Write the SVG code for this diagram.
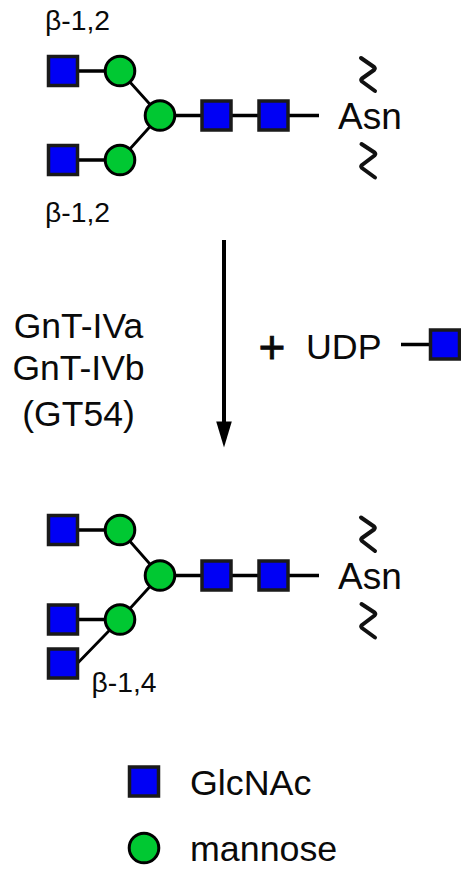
<svg xmlns="http://www.w3.org/2000/svg" width="461" height="871" viewBox="0 0 461 871">
<style>
text{font-family:"Liberation Sans",Arial,sans-serif;fill:#0a0a0a}
.l{font-size:35.800px}
.a{font-size:37px}
.b{font-size:28.300px}
.c{text-anchor:middle;font-size:35.500px}
.g{fill:#0000f5;stroke:#1a1a1a;stroke-width:3.500}
.m{fill:#00c832;stroke:#000;stroke-width:3}
.k{fill:none;stroke:#000;stroke-width:3.500}
.t{stroke-width:2.800}
.w{fill:none;stroke:#111;stroke-width:4;stroke-linecap:round;stroke-linejoin:round}
</style>
<defs>
<rect id="sq" x="-14.500" y="-14.500" width="29" height="29" class="g"/>
<circle id="ci" r="14.800" class="m"/>
</defs>
<rect width="461" height="871" fill="#fff"/>
<g id="connectors">
<path class="k" d="M63 71H120M63 160H120M160 115.500H319"/>
<path class="k t" d="M120 71L160 115.500M120 160L160 115.500"/>
<path class="k" d="M63 530H120M63 619.500H120M160 575.500H319"/>
<path class="k t" d="M120 530L160 575.500M120 619.500L160 575.500M70 671L120 619.500"/>
<path class="k" d="M401 344.500H445"/>
<path d="M224 240V425" fill="none" stroke="#000" stroke-width="4"/>
<path d="M216.200 421.500H231.800L224 447.500Z" fill="#000"/>
</g>
<g id="top-glycan">
<use id="t-g1" href="#sq" x="63" y="71"/>
<use id="t-m1" href="#ci" x="120" y="71"/>
<use id="t-g2" href="#sq" x="63" y="160"/>
<use id="t-m2" href="#ci" x="120" y="160"/>
<use id="t-m3" href="#ci" x="160" y="115.500"/>
<use id="t-g3" href="#sq" x="216.500" y="115.500"/>
<use id="t-g4" href="#sq" x="273.500" y="115.500"/>
<text class="b" x="45" y="30">β-1,2</text>
<text class="b" x="45" y="222">β-1,2</text>
<text class="a" x="338" y="128.500">Asn</text>
<path class="w" d="M361 58L374 67Q375.500 68.500 374 70L362 78.500Q360.500 80 362 81.500L375 91"/>
<path class="w" d="M361.500 144L374.500 152.500Q376 154 374.500 155.500L362 165Q360.500 166.500 362 168L375 177.500"/>
</g>
<g id="bottom-glycan">
<use id="b-g1" href="#sq" x="63" y="530"/>
<use id="b-m1" href="#ci" x="120" y="530"/>
<use id="b-g2" href="#sq" x="63" y="619.500"/>
<use id="b-m2" href="#ci" x="120" y="619.500"/>
<use id="b-g5" href="#sq" x="63" y="663.500"/>
<use id="b-m3" href="#ci" x="160" y="575.500"/>
<use id="b-g3" href="#sq" x="216.500" y="575.500"/>
<use id="b-g4" href="#sq" x="273.500" y="575.500"/>
<text class="b" x="91.500" y="691.500">β-1,4</text>
<text class="a" x="338" y="588.500">Asn</text>
<path class="w" d="M361 517.500L374 526.500Q375.500 528 374 529.500L362 538Q360.500 539.500 362 541L375 551"/>
<path class="w" d="M361.500 604L374.500 612.500Q376 614 374.500 615.500L362 625Q360.500 626.500 362 628L375 637.500"/>
</g>
<g id="enzymes">
<text class="c" x="78.500" y="337.500">GnT-IVa</text>
<text class="c" x="78.500" y="380">GnT-IVb</text>
<text class="c" x="78.500" y="426">(GT54)</text>
</g>
<g id="donor">
<text x="272" y="363" text-anchor="middle" font-size="46" stroke="#0a0a0a" stroke-width="0.800">+</text>
<text class="l" x="306" y="358.500">UDP</text>
<use id="d-g" href="#sq" x="445" y="344.500"/>
</g>
<g id="legend-glcnac">
<use href="#sq" x="144" y="781.500"/>
<text class="l" x="190" y="794.500">GlcNAc</text>
</g>
<g id="legend-mannose">
<use href="#ci" x="144" y="848"/>
<text class="l" x="190" y="861">mannose</text>
</g>
</svg>
